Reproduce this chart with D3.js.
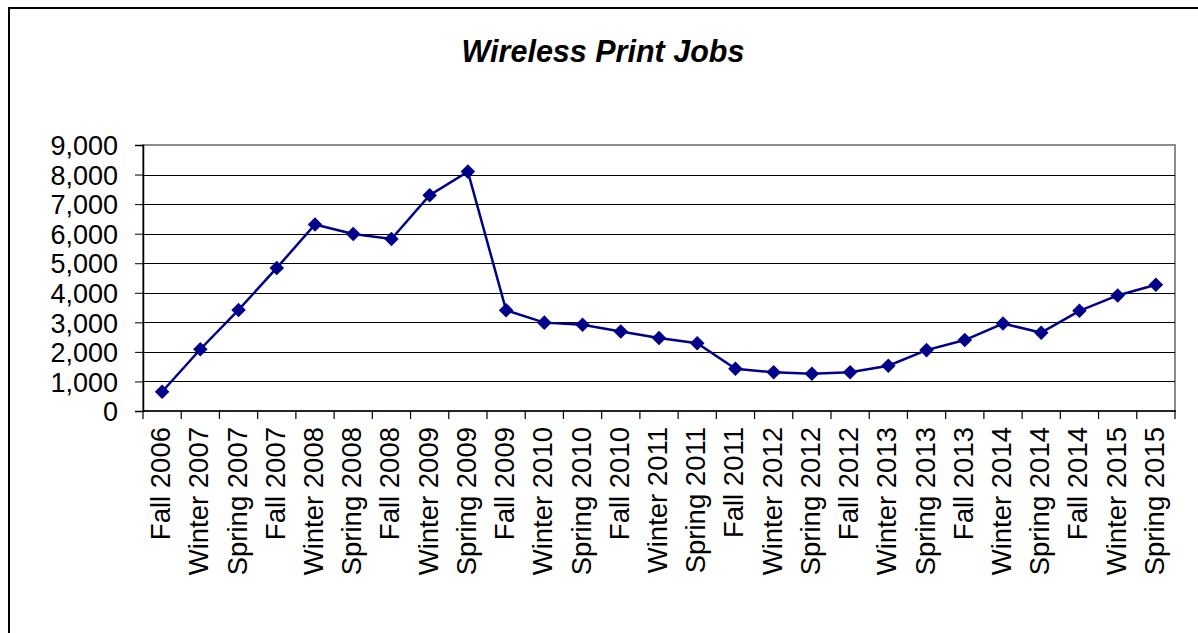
<!DOCTYPE html>
<html>
<head>
<meta charset="utf-8">
<script src="https://cdn.jsdelivr.net/npm/d3@7"></script>
<style>
  html, body { margin: 0; padding: 0; background: #fff; }
  svg { display: block; }
</style>
</head>
<body>
<svg id="chart" width="1198" height="633"></svg>
<script>
const categories = [
  "Fall 2006","Winter 2007","Spring 2007","Fall 2007","Winter 2008","Spring 2008",
  "Fall 2008","Winter 2009","Spring 2009","Fall 2009","Winter 2010","Spring 2010",
  "Fall 2010","Winter 2011","Spring 2011","Fall 2011","Winter 2012","Spring 2012",
  "Fall 2012","Winter 2013","Spring 2013","Fall 2013","Winter 2014","Spring 2014",
  "Fall 2014","Winter 2015","Spring 2015"
];
const printJobs = [
  650, 2090, 3420, 4840, 6310, 5990,
  5820, 7300, 8100, 3410, 2990, 2920,
  2690, 2470, 2290, 1430, 1310, 1260,
  1310, 1530, 2060, 2400, 2960, 2650,
  3390, 3910, 4270
];
const yTicks = [0, 1000, 2000, 3000, 4000, 5000, 6000, 7000, 8000, 9000];
const chartTitle = "Wireless Print Jobs";

const svg = d3.select("#chart");
const pLeft = 143, pRight = 1175, pTop = 145, pBottom = 411;
const font = "'Liberation Sans', Arial, sans-serif";

// outer frame (left & top visible)
svg.append("path")
  .attr("d", "M9,640 L9,8 L1210,8")
  .attr("fill", "none").attr("stroke", "#000").attr("stroke-width", 2);

const x = d3.scaleBand().domain(categories).range([pLeft, pRight]).paddingInner(0).paddingOuter(0);
const y = d3.scaleLinear().domain([0, 9000]).range([pBottom, pTop]);

// title
svg.append("text")
  .attr("x", 603).attr("y", 62)
  .attr("text-anchor", "middle")
  .attr("font-family", font).attr("font-size", 30.5)
  .attr("font-weight", "bold").attr("font-style", "italic")
  .text(chartTitle);

// plot area border (gray)
svg.append("rect")
  .attr("x", pLeft).attr("y", pTop)
  .attr("width", pRight - pLeft).attr("height", pBottom - pTop)
  .attr("fill", "#fff").attr("stroke", "#8c8c8c").attr("stroke-width", 2);

// gridlines
svg.append("g").selectAll("line")
  .data(yTicks.filter(d => d > 0 && d < 9000))
  .join("line")
  .attr("x1", pLeft).attr("x2", pRight)
  .attr("y1", d => Math.round(y(d)) + 0.5).attr("y2", d => Math.round(y(d)) + 0.5)
  .attr("stroke", "#000").attr("stroke-width", 1);

// y axis
const yAxis = d3.axisLeft(y).tickValues(yTicks).tickSize(8).tickPadding(17)
  .tickFormat(d3.format(","));
const gy = svg.append("g").attr("transform", `translate(${pLeft},0)`).call(yAxis);
gy.select(".domain").attr("stroke", "#000").attr("stroke-width", 1.5);
gy.selectAll(".tick line").attr("stroke", "#000");
gy.selectAll(".tick text")
  .attr("font-family", font).attr("font-size", 27).attr("fill", "#000")
  .attr("dy", "0.36em");

// x axis baseline and ticks at boundaries
const gx = svg.append("g");
gx.append("line")
  .attr("x1", pLeft).attr("x2", pRight + 1)
  .attr("y1", pBottom).attr("y2", pBottom)
  .attr("stroke", "#000").attr("stroke-width", 1.5);
const bounds = categories.map(c => x(c)).concat([pRight]);
gx.selectAll("line.tk").data(bounds).join("line").attr("class", "tk")
  .attr("x1", d => d).attr("x2", d => d)
  .attr("y1", pBottom).attr("y2", pBottom + 8)
  .attr("stroke", "#000").attr("stroke-width", 1.2);

// x labels
gx.selectAll("text").data(categories).join("text")
  .attr("transform", d => `translate(${x(d) + x.bandwidth() / 2 + 8},${427}) rotate(-90)`)
  .attr("text-anchor", "end")
  .attr("font-family", font).attr("font-size", 27.5).attr("fill", "#000")
  .text(d => d);

// line
const cx = d => x(d) + x.bandwidth() / 2;
const line = d3.line().x((d, i) => cx(categories[i])).y(d => y(d));
svg.append("path")
  .datum(printJobs)
  .attr("d", line)
  .attr("fill", "none").attr("stroke", "#00008B").attr("stroke-width", 2.5);

// diamond markers
const sym = d3.symbol().type(d3.symbolDiamond2).size(135);
svg.append("g").selectAll("path")
  .data(printJobs)
  .join("path")
  .attr("transform", (d, i) => `translate(${cx(categories[i])},${y(d)})`)
  .attr("d", sym)
  .attr("fill", "#00008B");
</script>
</body>
</html>
